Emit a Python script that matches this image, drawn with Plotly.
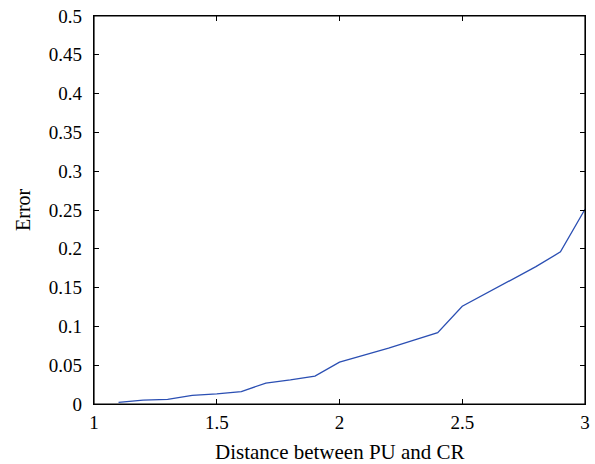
import plotly.graph_objects as go

distance = [1.1, 1.2, 1.3, 1.4, 1.5, 1.6, 1.7, 1.8, 1.9, 2.0,
            2.1, 2.2, 2.3, 2.4, 2.5, 2.6, 2.7, 2.8, 2.9, 3.0]
error = [0.002, 0.005, 0.006, 0.011, 0.013, 0.016, 0.027, 0.031, 0.036, 0.054,
         0.063, 0.072, 0.082, 0.092, 0.126, 0.143, 0.160, 0.177, 0.196, 0.251]

x_ticks = [1, 1.5, 2, 2.5, 3]
x_tick_labels = ["1", "1.5", "2", "2.5", "3"]
y_ticks = [0, 0.05, 0.1, 0.15, 0.2, 0.25, 0.3, 0.35, 0.4, 0.45, 0.5]
y_tick_labels = ["0", "0.05", "0.1", "0.15", "0.2", "0.25", "0.3", "0.35", "0.4", "0.45", "0.5"]

font_family = "Liberation Serif, DejaVu Serif, serif"

fig = go.Figure()
fig.add_trace(go.Scatter(x=distance, y=error, mode="lines",
                         line=dict(color="#2b4fb3", width=1.3),
                         showlegend=False, cliponaxis=False))

axis_common = dict(showline=True, linecolor="black", linewidth=1.2, mirror="ticks",
                   ticks="inside", ticklen=5, tickcolor="black", tickwidth=1,
                   showgrid=False, zeroline=False, automargin=False,
                   ticklabeloverflow="allow",
                   tickfont=dict(family=font_family, size=19, color="black"))

fig.update_xaxes(range=[1, 3], tickvals=x_ticks, ticktext=x_tick_labels,
                 ticklabelstandoff=1, **axis_common)
fig.update_yaxes(range=[0, 0.5], tickvals=y_ticks, ticktext=y_tick_labels,
                 ticklabelstandoff=7, **axis_common)

# frame around plot area
fig.add_shape(type="rect", xref="paper", yref="paper", x0=0, y0=0, x1=1, y1=1,
              line=dict(color="black", width=1.2), layer="above")

# axis titles
fig.add_annotation(text="Distance between PU and CR", xref="paper", yref="paper",
                   x=0.5, y=0, yshift=-48, showarrow=False, xanchor="center", yanchor="middle",
                   font=dict(family=font_family, size=21, color="black"))
fig.add_annotation(text="Error", xref="paper", yref="paper",
                   x=0, y=0.5, xshift=-71, showarrow=False, textangle=-90,
                   xanchor="center", yanchor="middle",
                   font=dict(family=font_family, size=20, color="black"))

fig.update_layout(width=595, height=464,
                  margin=dict(l=94, r=10, t=16, b=60),
                  paper_bgcolor="white", plot_bgcolor="white",
                  font=dict(family=font_family, color="black"))

fig.write_html("out.html",
               config={"displayModeBar": False},
               post_script="document.body.style.margin='0';document.body.style.overflow='hidden';")
